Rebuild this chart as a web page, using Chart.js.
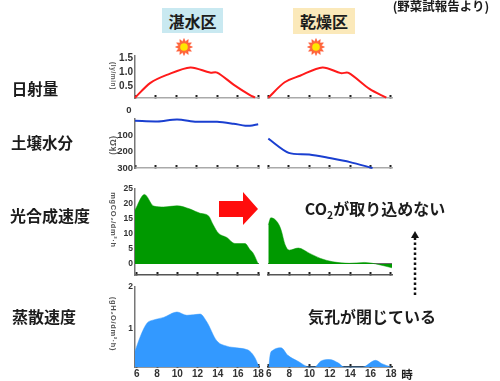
<!DOCTYPE html>
<html lang="ja">
<head>
<meta charset="utf-8">
<script src="https://cdn.jsdelivr.net/npm/chart.js@4"></script>
<style>
html,body{margin:0;padding:0;background:#fff;overflow:hidden}
#stage{position:relative;width:500px;height:381px;overflow:hidden;filter:blur(0.4px);font-family:"Noto Sans CJK JP","Noto Sans",sans-serif}
canvas{position:absolute}
.t{position:absolute;white-space:nowrap;font-weight:700;color:#1c1c1c;line-height:1;transform:translate(-50%,-50%)}
.box{position:absolute;display:flex;align-items:center;justify-content:center;font-weight:700;font-size:16px;color:#1c1c1c}
.v{position:absolute;white-space:nowrap;font:700 7.5px "Liberation Sans",sans-serif;color:#555;line-height:1;letter-spacing:.6px}
svg{position:absolute;left:0;top:0}
sub{font-size:65%;line-height:0}
</style>
</head>
<body>
<div id="stage">
  <div class="box" style="left:162px;top:8px;width:61px;height:25px;background:#c9e9f1">湛水区</div>
  <div class="box" style="left:293px;top:8px;width:62px;height:26px;background:#fbe9ba">乾燥区</div>
  <div class="t" style="left:441px;top:6px;font-size:12.5px">(野菜試報告より)</div>
  <div class="t" style="left:35px;top:89px;font-size:15.5px">日射量</div>
  <div class="t" style="left:42px;top:143px;font-size:15.5px">土壌水分</div>
  <div class="t" style="left:50px;top:215px;font-size:16px">光合成速度</div>
  <div class="t" style="left:44px;top:316px;font-size:16px">蒸散速度</div>
  <div class="t" style="left:375px;top:208px;font-size:16px">CO<sub>2</sub>が取り込めない</div>
  <div class="t" style="left:372px;top:316px;font-size:16px">気孔が閉じている</div>
  <div class="t" style="left:407px;top:375px;font-size:11.5px">時</div>
  <div class="t" style="left:129px;top:109px;font:700 9.5px 'Liberation Sans',sans-serif;color:#333">0</div>
  <div class="v" style="left:113px;top:76px;transform:translate(-50%,-50%) rotate(90deg);font-size:6.5px">(ly/min)</div>
  <div class="v" style="left:113px;top:145px;transform:translate(-50%,-50%) rotate(-90deg);font-size:8.5px">(kΩ)</div>
  <div class="v" style="left:113px;top:220px;transform:translate(-50%,-50%) rotate(90deg)">mgCO₂/dm²·h</div>
  <div class="v" style="left:113px;top:324px;transform:translate(-50%,-50%) rotate(90deg)">(gH₂O/dm²·h)</div>
  <svg width="500" height="381" viewBox="0 0 500 381">
    <g id="suns"></g>
    <polygon points="219,201 243,201 243,192 258,209 243,225 243,217 219,217" fill="#ff0d0d"/>
    <line x1="415" y1="295" x2="415" y2="238" stroke="#111" stroke-width="2.5" stroke-dasharray="2.4 2.6"/>
    <polygon points="415,231 411,238 419,238" fill="#111"/>
  </svg>
</div>
<script>
const radiationHoursA = [6, 7.5, 9.1, 11.4, 13.3, 14, 15.6, 17.2, 17.7];
const radiationA = [0.11, 0.63, 0.91, 1.17, 0.99, 0.99, 0.57, 0.2, 0.12];
const radiationHoursB = [6, 7.6, 9.1, 11.3, 13.1, 13.85, 15.9, 17.55];
const radiationB = [0.11, 0.65, 0.88, 1.17, 0.97, 0.98, 0.42, 0.11];

const soilHoursA = [6, 8.2, 10.1, 12, 14, 15.6, 16.75, 17.2, 18];
const soilA = [11, 15, 3, 17, 17, 29, 41, 41, 32];
const soilHoursB = [6, 8, 10, 12, 14, 16.2];
const soilB = [120, 207, 217, 239, 264, 300];

const photoHoursA = [5.82, 6.75, 7.67, 8.65, 9.97, 11.27, 12.26, 13.07, 13.56, 14.05, 14.9, 15.7, 16.7, 17.2, 17.5, 18];
const photoA = [18, 23.2, 19.3, 19, 19.4, 18.3, 16.9, 16.1, 13, 10.3, 8.8, 6.8, 6.8, 4.7, 3.6, 0];
const photoHoursB = [5.95, 6.2, 6.85, 7.2, 7.6, 8, 8.9, 9.96, 11.1, 12.3, 13.9, 15.4, 16.5, 18.1];
const photoB = [13, 15.4, 13.9, 11.4, 6.4, 4.6, 5.3, 3.6, 1.8, 0.7, 0.2, 0.5, 0, -1.3];

const transHoursA = [5.82, 6.36, 7, 7.67, 8.65, 9.97, 10.95, 12.26, 12.9, 13.9, 14.9, 15.86, 16.85, 17.17, 17.66, 18.08];
const transA = [0.46, 0.82, 1.13, 1.21, 1.27, 1.4, 1.32, 1.35, 1.17, 0.71, 0.58, 0.54, 0.5, 0.46, 0.31, 0.08];
const transHoursB = [6, 6.14, 6.4, 7.2, 7.87, 8.85, 10, 10.5, 11.1, 11.96, 12.8, 13.4, 15.2, 16.5, 17.1, 18];
const transB = [0.08, 0.38, 0.48, 0.54, 0.36, 0.22, 0.08, 0.08, 0.22, 0.26, 0.18, 0.08, 0.08, 0.24, 0.16, 0.08];

const hourTicks = [6, 8, 10, 12, 14, 16, 18];
const radiationTicks = [0.5, 1.0, 1.5];
const soilTicks = [100, 200, 300];
const photoTicks = [0, 5, 10, 15, 20, 25];
const transTicks = [1, 2];

const stage = document.getElementById('stage');
const FONT = 'Liberation Sans';

function sun(cx, cy) {
  const g = document.getElementById('suns');
  let pts = [];
  for (let i = 0; i < 24; i++) {
    const r = i % 2 ? 5.5 : 8.5, a = i * Math.PI / 12;
    pts.push((cx + r * Math.cos(a)).toFixed(1) + ',' + (cy + r * Math.sin(a)).toFixed(1));
  }
  g.innerHTML += `<polygon points="${pts.join(' ')}" fill="#ff6a3a" stroke="#ff4a2a" stroke-width="0.5"/><circle cx="${cx}" cy="${cy}" r="3.8" fill="#ffe600"/>`;
}
sun(184, 47); sun(316, 47);

function panel(o) {
  const YW = 34, PADT = 8, PADR = 10, XH = o.labels ? 15 : 0, PADB = 8;
  const c = document.createElement('canvas');
  c.width = YW + (o.R - o.L) + PADR;
  c.height = (o.B - o.T) + PADT + XH + PADB;
  c.style.left = (o.L - YW) + 'px';
  c.style.top = (o.T - PADT) + 'px';
  stage.appendChild(c);
  const fontY = {family: FONT, weight: 'bold', size: o.fontY};
  new Chart(c, {
    type: 'line',
    data: {datasets: [{
      data: o.hours.map((h, i) => ({x: h, y: o.values[i]})),
      borderColor: o.line, backgroundColor: o.fill || 'transparent',
      fill: o.fill ? 'origin' : false, borderWidth: o.fill ? 0.5 : 2,
      pointRadius: 0, tension: 0.3, clip: false,
      cubicInterpolationMode: o.fill ? 'monotone' : 'default'
    }]},
    options: {
      responsive: false, animation: false,
      layout: {padding: {top: PADT, right: PADR, bottom: PADB, left: 0}},
      plugins: {legend: {display: false}, tooltip: {enabled: false}},
      scales: {
        x: {
          type: 'linear', min: o.xMin, max: o.xMax,
          afterBuildTicks: s => { s.ticks = hourTicks.map(v => ({value: v})); },
          afterFit: s => { s.height = XH; },
          border: {color: o.xAxis, width: 1.5},
          grid: {drawOnChartArea: false, drawTicks: true, tickLength: -3, tickWidth: 2, tickColor: '#222'},
          ticks: {display: !!o.labels, autoSkip: false, maxRotation: 0, color: '#333', padding: 4,
                  font: {family: FONT, weight: 'bold', size: 10}, callback: v => String(v)}
        },
        y: {
          min: o.yMin, max: o.yMax, reverse: !!o.reverse,
          afterBuildTicks: s => { s.ticks = o.yTicks.map(v => ({value: v})); },
          afterFit: s => { s.width = YW; },
          border: {display: !o.right, color: '#777', width: 1.5},
          grid: {drawTicks: false, drawOnChartArea: !!o.zero, lineWidth: 1,
                 color: ctx => (o.zero && ctx.tick && ctx.tick.value === 0) ? '#666' : 'transparent'},
          ticks: {display: !o.right, autoSkip: false, color: '#333', padding: 2, font: fontY,
                  callback: v => o.yFormat ? v.toFixed(1) : String(v)}
        }
      }
    }
  });
}

const colA = {L: 134.5, R: 259}, colB = {L: 268, R: 392.5};
const rows = [
 {T: 56, B: 98.5, yMin: 0.1, yMax: 1.57, yTicks: radiationTicks, fontY: 10, yFormat: true, xAxis: '#aaa', line: '#ff1a1a',
  A: [radiationHoursA, radiationA], Bd: [radiationHoursB, radiationB], xA: [6, 18.08], xB: [5.97, 18.1]},
 {T: 118.5, B: 168, yMin: 0, yMax: 300, reverse: true, yTicks: soilTicks, fontY: 9.5, xAxis: '#aaa', line: '#1a3fd0',
  A: [soilHoursA, soilA], Bd: [soilHoursB, soilB], xA: [6, 18.08], xB: [5.97, 18.1]},
 {T: 189, B: 275.7, yMin: -3.7, yMax: 25, yTicks: photoTicks, fontY: 8.5, xAxis: '#555', line: '#009900', fill: '#009900', zero: true,
  A: [photoHoursA, photoA], Bd: [photoHoursB, photoB], xA: [5.82, 18.08], xB: [5.92, 18.1]},
 {T: 287, B: 367.7, yMin: 0.08, yMax: 2, yTicks: transTicks, fontY: 8.5, xAxis: '#333', line: '#3399ff', fill: '#3399ff', labels: true,
  A: [transHoursA, transA], Bd: [transHoursB, transB], xA: [5.82, 18.08], xB: [5.92, 18.1]}
];
rows.forEach(r => {
  panel({...r, ...colA, hours: r.A[0], values: r.A[1], xMin: r.xA[0], xMax: r.xA[1]});
  panel({...r, ...colB, hours: r.Bd[0], values: r.Bd[1], xMin: r.xB[0], xMax: r.xB[1], right: true});
});
</script>
</body>
</html>
